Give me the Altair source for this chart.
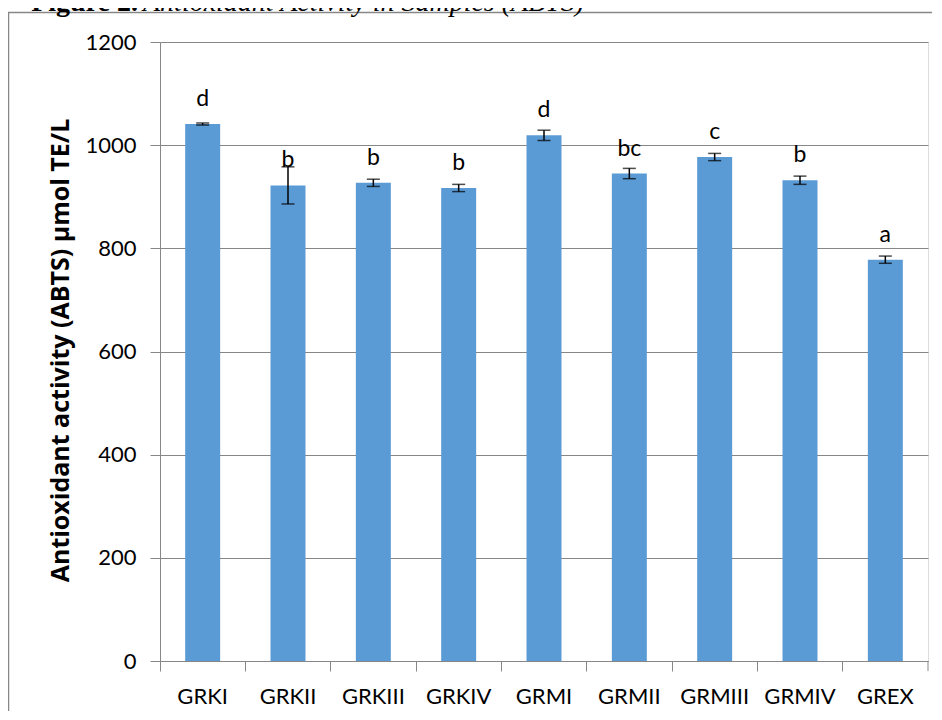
import altair as alt
import pandas as pd

samples = ["GRKI", "GRKII", "GRKIII", "GRKIV", "GRMI", "GRMII", "GRMIII", "GRMIV", "GREX"]
means = [1041, 922, 927, 917, 1019, 945, 977, 932, 778]
errors = [2, 36, 7, 7, 10, 10, 7, 8, 7]
letters = ["d", "b", "b", "b", "d", "bc", "c", "b", "a"]
y_ticks = [0, 200, 400, 600, 800, 1000, 1200]
title_bold = "Figure 2."
title_italic = "Antioxidant Activity in Samples (ABTS)"
y_title = "Antioxidant activity (ABTS) µmol TE/L"

df = pd.DataFrame({
    "sample": samples,
    "mean": means,
    "err": errors,
    "letter": letters,
})
df["lo"] = df["mean"] - df["err"]
df["hi"] = df["mean"] + df["err"]

GRAY = "#878787"
FONT = "Lato"

x_enc = alt.X("sample:N", sort=samples,
              scale=alt.Scale(paddingInner=0, paddingOuter=0),
              axis=alt.Axis(title=None, bandPosition=0, labelAngle=0,
                            tickSize=10, labelPadding=15, domainColor=GRAY,
                            tickColor=GRAY, labelFont=FONT, labelFontSize=22,
                            labelColor="black"))
y_scale = alt.Scale(domain=[0, 1200], nice=False)
y_axis = alt.Axis(values=y_ticks, format="d", grid=True, gridColor=GRAY,
                  domainColor=GRAY, tickColor=GRAY, tickSize=10, labelPadding=14,
                  labelFont=FONT, labelFontSize=22, labelColor="black",
                  title=y_title, titleFont="Open Sans", titleFontSize=25,
                  titleFontWeight="bold", titleColor="black", titleAngle=-90,
                  titleX=-100, titleY=308, titleAlign="center",
                  titleBaseline="middle")

base = alt.Chart(df)

bars = base.mark_bar(width=alt.RelativeBandSize(0.41), color="#5B9BD5").encode(
    x=x_enc,
    y=alt.Y("mean:Q", scale=y_scale, axis=y_axis),
)
rules = base.mark_rule(color="black", strokeWidth=1.5).encode(
    x=alt.X("sample:N", sort=samples), y="lo:Q", y2="hi:Q")
cap_lo = base.mark_tick(color="black", thickness=1.5, size=13).encode(
    x=alt.X("sample:N", sort=samples), y="lo:Q")
cap_hi = base.mark_tick(color="black", thickness=1.5, size=13).encode(
    x=alt.X("sample:N", sort=samples), y="hi:Q")
labels = base.mark_text(font=FONT, fontSize=23, dy=-18, baseline="alphabetic",
                        color="black").encode(
    x=alt.X("sample:N", sort=samples), y="mean:Q", text="letter:N")

one = alt.Chart(pd.DataFrame({"k": [0]}))
frame = one.mark_rect(fillOpacity=0, stroke=GRAY, strokeWidth=1.5).encode(
    x=alt.value(-151.5), x2=alt.value(800), y=alt.value(-29.5), y2=alt.value(800))
end_tick = one.mark_rule(color=GRAY, strokeWidth=1).encode(
    x=alt.value(768), y=alt.value(619), y2=alt.value(629))
t1 = one.mark_text(font="Liberation Serif", fontSize=28, fontWeight="bold",
                   align="right", baseline="alphabetic", color="black").encode(
    x=alt.value(-22), y=alt.value(-31), text=alt.value(title_bold))
t2 = one.mark_text(font="Liberation Serif", fontSize=28, fontStyle="italic",
                   align="left", baseline="alphabetic", color="black").encode(
    x=alt.value(-17), y=alt.value(-31), text=alt.value(title_italic))

chart = alt.layer(frame, bars, rules, cap_lo, cap_hi, labels, end_tick, t1, t2).properties(
    width=768, height=619,
    autosize=alt.AutoSizeParams(type="none"),
    padding={"left": 152, "top": 34, "right": 4, "bottom": 50},
).configure_view(stroke=None).configure(background="white")

chart.save("out.html", embed_options={"renderer": "svg", "actions": False})
